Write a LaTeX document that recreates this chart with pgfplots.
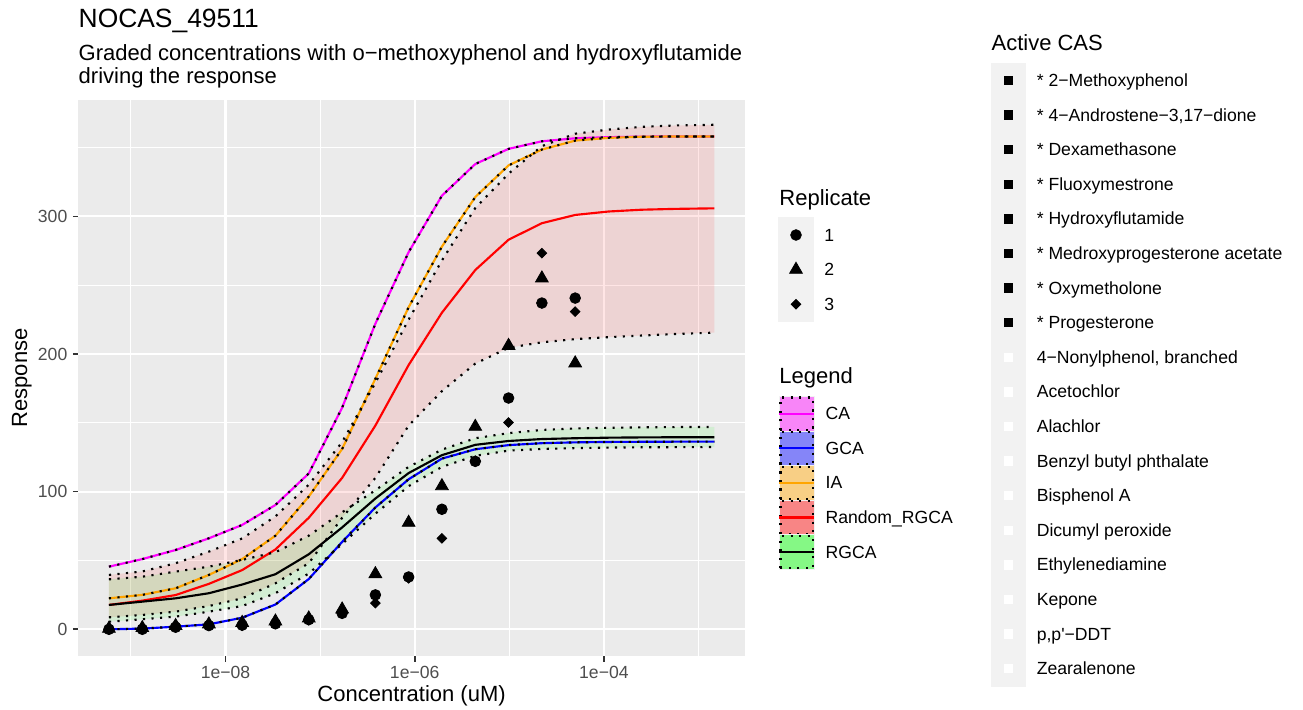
\documentclass[border=0pt]{standalone}
\usepackage{fontspec}
\setmainfont{Liberation Sans}
\newfontfamily\plainfont{Liberation Sans}
\usepackage{pgfplots}
\usepackage{pgfplotstable}
\pgfplotsset{compat=1.18}
\usepgfplotslibrary{fillbetween}

\definecolor{grey92}{HTML}{EBEBEB}
\definecolor{grey95}{HTML}{F2F2F2}
\definecolor{grey30}{HTML}{4D4D4D}
\definecolor{grey20}{HTML}{333333}
\definecolor{ggmag}{HTML}{FF00FF}
\definecolor{ggblue}{HTML}{0000FF}
\definecolor{ggorange}{HTML}{FFA500}
\definecolor{ggred}{HTML}{FF0000}
\definecolor{gggreen}{HTML}{00FF00}

% fitted curves and their bands
\pgfplotstableread{
x        ca     ia     gca    rr     rrlo   rrhi   rg     rglo   rghi
5.86e-10 45.5   22.5   0.0    17.7   8.7    39.5   17.7   5.5    36.3
1.32e-9  51.0   25.0   0.5    20.8   10.4   42.0   20.1   7.3    38.2
2.97e-9  57.6   29.8   1.9    24.9   12.8   48.0   22.5   9.2    41.9
6.67e-9  66.1   39.5   3.6    33.0   16.9   56.4   26.2   12.8   45.5
1.50e-8  75.8   51.0   8.4    43.0   22.5   66.0   32.5   16.9   50.4
3.37e-8  90.3   68.0   18.0   58.0   33.4   82.0   40.0   26.2   56.0
7.59e-8  113.2  96.4   36.5   81.0   48.0   105.0  54.5   40.5   68.0
1.71e-7  161.0  131.0  63.5   110.0  81.0   136.0  74.0   62.0   85.0
3.84e-7  222.0  182.0  88.5   148.0  110.0  179.0  95.0   84.0   101.0
8.63e-7  274.0  234.0  109.0  192.0  148.0  225.0  113.5  104.0  118.0
1.94e-6  315.0  278.0  124.0  230.0  173.0  268.0  126.5  118.0  130.5
4.37e-6  338.0  314.0  130.8  261.0  193.0  306.0  134.0  126.0  138.8
9.82e-6  349.0  337.0  133.8  283.0  204.5  331.0  136.8  129.8  142.5
2.21e-5  354.5  348.5  135.2  295.0  208.5  351.0  138.2  131.0  144.8
4.97e-5  356.7  355.0  135.8  301.0  210.8  360.0  138.8  131.6  145.9
1.12e-4  357.5  357.0  136.1  303.5  212.2  363.0  139.2  132.0  146.4
2.51e-4  357.9  357.8  136.2  304.8  213.4  365.0  139.4  132.2  146.7
5.65e-4  358.0  358.0  136.3  305.4  214.5  366.0  139.5  132.3  146.9
1.47e-3  358.0  358.0  136.3  305.8  215.5  366.5  139.5  132.4  147.0
}\curves

% observed replicates
\pgfplotstableread{
x        r1     r2     r3
5.86e-10 0.0    0.5    0.0
1.32e-9  0.0    1.0    0.5
2.97e-9  1.5    2.5    3.0
6.67e-9  2.7    3.7    3.0
1.50e-8  3.0    4.8    2.5
3.37e-8  4.0    5.8    4.5
7.59e-8  7.0    8.0    6.5
1.71e-7  11.6   14.5   12.0
3.84e-7  25.0   40.2   19.0
8.63e-7  38.0   77.5   37.0
1.94e-6  87.2   104.1  66.1
4.37e-6  122.0  147.2  122.5
9.82e-6  168.0  206.0  150.2
2.21e-5  237.0  255.0  273.2
4.97e-5  240.6  193.3  230.8
}\reps

\tikzset{ggdot/.style={black, line width=1.07pt, dash pattern=on 1.07pt off 3.2pt}}
\newcommand\lt[1]{\vphantom{X}\smash{#1}}

\pgfplotsset{
  legbox/.style={hide axis, scale only axis, width=10pt, height=10pt,
    xmin=0, xmax=1, ymin=0, ymax=1, anchor=north west,
    legend cell align=left,
    legend style={at={(0,1)}, anchor=north west, draw=none, fill=none,
      inner sep=0pt, outer sep=0pt, row sep=-0.4pt, column sep=5.3pt,
      font=\fontsize{8.8}{10}\selectfont,
      nodes={inner sep=0pt, outer sep=0pt, text depth=0pt}}},
  markkey/.style={legend image code/.code={
      \fill[grey95] (0pt,-8.65pt) rectangle (17.3pt,8.65pt);
      \draw plot coordinates {(8.65pt,0pt)};}},
  curvekey/.style 2 args={legend image code/.code={
      \fill[grey95] (0pt,-8.65pt) rectangle (17.3pt,8.65pt);
      \fill[#1!45!grey95] (0.53pt,-8.12pt) rectangle (16.77pt,8.12pt);
      \draw[ggdot] (0.53pt,-8.12pt) rectangle (16.77pt,8.12pt);
      \draw[#2, line width=1.07pt] (0pt,0pt) -- (17.3pt,0pt);}},
  caskey/.style={legend image code/.code={
      \fill[grey95] (0pt,-8.65pt) rectangle (17.3pt,8.65pt);
      \fill[#1] (6.5pt,-2.1pt) rectangle (10.8pt,2.1pt);}},
}

\begin{document}
\begin{tikzpicture}

\begin{axis}[
  at={(39.15pt,26.5pt)}, anchor=south west,
  scale only axis, width=333.35pt, height=278pt,
  xmode=log, xmin=2.78e-10, xmax=3.10e-3,
  ymin=-19.4, ymax=384.5,
  axis background/.style={fill=grey92},
  axis line style={draw=none},
  xtick={1e-8,1e-6,1e-4}, xticklabels={1e−08,1e−06,1e−04},
  minor xtick={1e-9,1e-7,1e-5,1e-3},
  ytick={0,100,200,300}, yticklabels={0,100,200,300},
  minor ytick={50,150,250,350},
  grid=both,
  major grid style={white, line width=1.07pt},
  minor grid style={white, line width=0.53pt},
  tick align=outside, tick pos=left,
  major tick length=2.75pt, minor tick length=0pt,
  tick style={grey20, line width=0.8pt},
  xticklabel style={font=\fontsize{8.8}{10}\selectfont, text=grey30, inner sep=0pt, yshift=-2.2pt},
  yticklabel style={font=\fontsize{8.8}{10}\selectfont, text=grey30, inner sep=0pt, xshift=-2.55pt},
]
% ribbons
\addplot[name path=rrhi, draw=none, forget plot] table[x=x,y=rrhi]{\curves};
\addplot[name path=rrlo, draw=none, forget plot] table[x=x,y=rrlo]{\curves};
\addplot[ggred, fill opacity=0.1, draw=none, forget plot] fill between[of=rrhi and rrlo];
\addplot[name path=rghi, draw=none, forget plot] table[x=x,y=rghi]{\curves};
\addplot[name path=rglo, draw=none, forget plot] table[x=x,y=rglo]{\curves};
\addplot[gggreen, fill opacity=0.1, draw=none, forget plot] fill between[of=rghi and rglo];
% curves
\addplot[ggmag, line width=1.07pt, forget plot] table[x=x,y=ca]{\curves};
\addplot[ggblue, line width=1.07pt, forget plot] table[x=x,y=gca]{\curves};
\addplot[ggorange, line width=1.07pt, forget plot] table[x=x,y=ia]{\curves};
\addplot[ggred, line width=1.07pt, forget plot] table[x=x,y=rr]{\curves};
\addplot[black, line width=1.07pt, forget plot] table[x=x,y=rg]{\curves};
% band borders
\addplot[ggdot, forget plot] table[x=x,y=ca]{\curves};
\addplot[ggdot, forget plot] table[x=x,y=gca]{\curves};
\addplot[ggdot, forget plot] table[x=x,y=ia]{\curves};
\addplot[ggdot, forget plot] table[x=x,y=rrhi]{\curves};
\addplot[ggdot, forget plot] table[x=x,y=rrlo]{\curves};
\addplot[ggdot, forget plot] table[x=x,y=rghi]{\curves};
\addplot[ggdot, forget plot] table[x=x,y=rglo]{\curves};
% replicates
\addplot[only marks, mark=*, mark size=2.67pt, black, forget plot] table[x=x,y=r1]{\reps};
\addplot[only marks, mark=square*, mark size=1.7pt, mark options={rotate=45}, black, forget plot] table[x=x,y=r3]{\reps};
\addplot[only marks, mark=triangle*, mark size=3.67pt, black, forget plot] table[x=x,y=r2]{\reps};
\end{axis}

% Replicate legend
\begin{axis}[legbox, at={(389.15pt,245.85pt)}]
\addplot[draw=none, forget plot] coordinates {(0,0) (1,1)};
\addlegendimage{markkey, black, mark=*, mark size=2.67pt}
\addlegendentry{\lt{1}}
\addlegendimage{markkey, black, mark=triangle*, mark size=3.67pt}
\addlegendentry{\lt{2}}
\addlegendimage{markkey, black, mark=square*, mark size=1.7pt, mark options={rotate=45}}
\addlegendentry{\lt{3}}
\end{axis}

% curve legend
\begin{axis}[legbox, at={(389.15pt,156.5pt)}]
\addplot[draw=none, forget plot] coordinates {(0,0) (1,1)};
\addlegendimage{curvekey={ggmag}{ggmag}}
\addlegendentry{\lt{CA}}
\addlegendimage{curvekey={ggblue}{ggblue}}
\addlegendentry{\lt{GCA}}
\addlegendimage{curvekey={ggorange}{ggorange}}
\addlegendentry{\lt{IA}}
\addlegendimage{curvekey={ggred}{ggred}}
\addlegendentry{\lt{Random\_RGCA}}
\addlegendimage{curvekey={gggreen}{black}}
\addlegendentry{\lt{RGCA}}
\end{axis}

% Active CAS legend
\begin{axis}[legbox, at={(495.4pt,323.15pt)}]
\addplot[draw=none, forget plot] coordinates {(0,0) (1,1)};
\addlegendimage{caskey=black}\addlegendentry{\lt{* 2−Methoxyphenol}}
\addlegendimage{caskey=black}\addlegendentry{\lt{* 4−Androstene−3,17−dione}}
\addlegendimage{caskey=black}\addlegendentry{\lt{* Dexamethasone}}
\addlegendimage{caskey=black}\addlegendentry{\lt{* Fluoxymestrone}}
\addlegendimage{caskey=black}\addlegendentry{\lt{* Hydroxyflutamide}}
\addlegendimage{caskey=black}\addlegendentry{\lt{* Medroxyprogesterone acetate}}
\addlegendimage{caskey=black}\addlegendentry{\lt{* Oxymetholone}}
\addlegendimage{caskey=black}\addlegendentry{\lt{* Progesterone}}
\addlegendimage{caskey=white}\addlegendentry{\lt{4−Nonylphenol, branched}}
\addlegendimage{caskey=white}\addlegendentry{\lt{Acetochlor}}
\addlegendimage{caskey=white}\addlegendentry{\lt{Alachlor}}
\addlegendimage{caskey=white}\addlegendentry{\lt{Benzyl butyl phthalate}}
\addlegendimage{caskey=white}\addlegendentry{\lt{Bisphenol A}}
\addlegendimage{caskey=white}\addlegendentry{\lt{Dicumyl peroxide}}
\addlegendimage{caskey=white}\addlegendentry{\lt{Ethylenediamine}}
\addlegendimage{caskey=white}\addlegendentry{\lt{Kepone}}
\addlegendimage{caskey=white}\addlegendentry{\lt{p,p{\plainfont'}−DDT}}
\addlegendimage{caskey=white}\addlegendentry{\lt{Zearalenone}}
\end{axis}

% titles and labels
\node[anchor=base west, inner sep=0pt, font=\fontsize{13.2}{15}\selectfont] at (39.15pt,340.65pt) {NOCAS\_49511};
\node[anchor=base west, inner sep=0pt, font=\fontsize{11}{13}\selectfont] at (39.15pt,324pt) {Graded concentrations with o−methoxyphenol and hydroxyflutamide};
\node[anchor=base west, inner sep=0pt, font=\fontsize{11}{13}\selectfont] at (39.15pt,312.5pt) {driving the response};
\node[anchor=base, inner sep=0pt, font=\fontsize{11}{13}\selectfont] at (205.8pt,4pt) {Concentration (uM)};
\node[anchor=base, rotate=90, inner sep=0pt, font=\fontsize{11}{13}\selectfont] at (13.5pt,165.5pt) {Response};
\node[anchor=base west, inner sep=0pt, font=\fontsize{11}{13}\selectfont] at (389.5pt,252pt) {Replicate};
\node[anchor=base west, inner sep=0pt, font=\fontsize{11}{13}\selectfont] at (389.5pt,162.65pt) {Legend};
\node[anchor=base west, inner sep=0pt, font=\fontsize{11}{13}\selectfont] at (495.6pt,329.3pt) {Active CAS};

\pgfresetboundingbox
\path (0,0) rectangle (651.5pt,354.5pt);
\end{tikzpicture}
\end{document}
